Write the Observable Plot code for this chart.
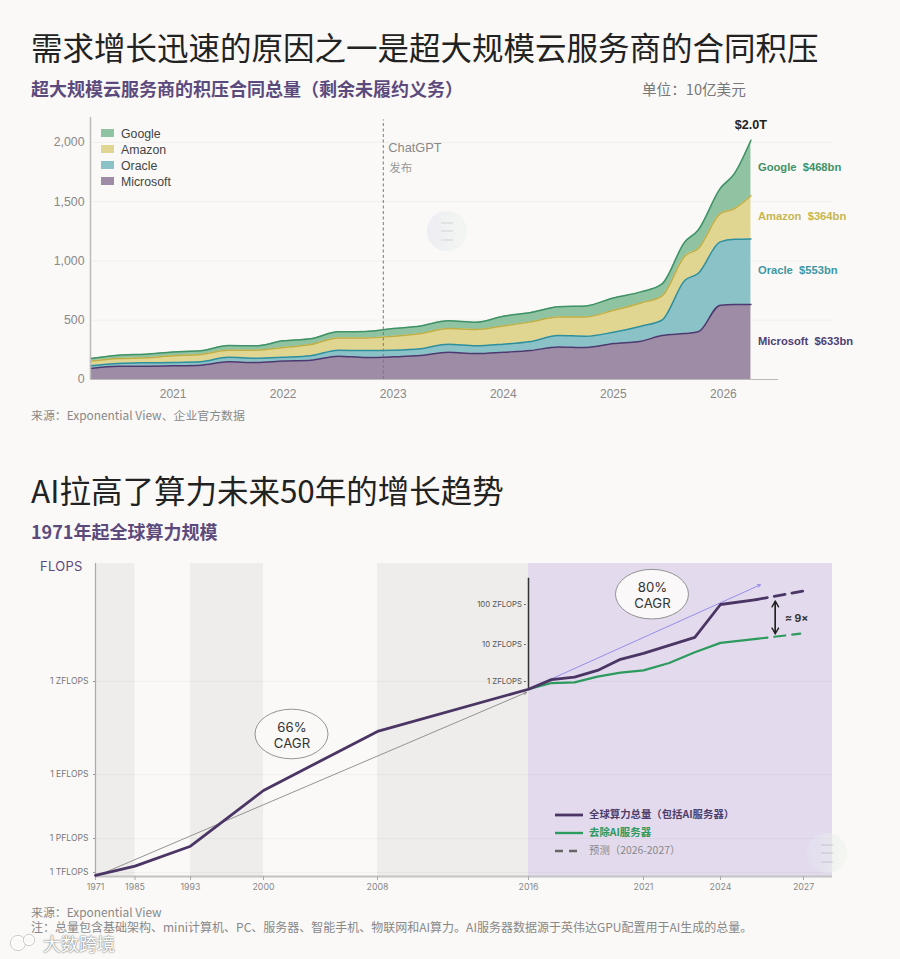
<!DOCTYPE html>
<html lang="zh"><head><meta charset="utf-8">
<script src="https://cdn.jsdelivr.net/npm/d3@7"></script>
<script src="https://cdn.jsdelivr.net/npm/@observablehq/plot@0.6"></script>
<style>
html,body{margin:0;padding:0;background:#faf9f7;}
body{position:relative;width:900px;height:959px;overflow:hidden;font-family:"Noto Sans CJK SC","Noto Sans",sans-serif;}
.t{position:absolute;white-space:nowrap;line-height:1;}
.h1{font-size:31.5px;color:#222;left:31px;}
.h2{font-weight:700;color:#5c4a7d;left:31px;}
.src{font-size:11.9px;color:#888;left:31px;}
.lg1{font:12.3px "Liberation Sans",sans-serif;color:#444;left:121px;}
.sw{position:absolute;left:101px;width:13px;height:8px;}
.mk{position:absolute;border-radius:50%;width:40px;height:40px;opacity:.5;background:linear-gradient(90deg,#e3e2f3,#eef6ea);}
.mk i{position:absolute;left:14px;width:12px;height:2px;background:#ccc;}
</style></head><body>
<div class="t h1" style="top:31px">需求增长迅速的原因之一是超大规模云服务商的合同积压</div>
<div class="t h2" style="top:79px;font-size:18px">超大规模云服务商的积压合同总量（剩余未履约义务）</div>
<div class="t" style="left:642px;top:82px;font-size:14.6px;color:#777">单位：10亿美元</div>
<div class="t src" style="top:409px">来源：Exponential View、企业官方数据</div>
<div class="t h1" style="top:474px">AI拉高了算力未来50年的增长趋势</div>
<div class="t h2" style="top:522px;font-size:18px">1971年起全球算力规模</div>
<div class="t" style="left:40px;top:558px;font:13px 'Inter',sans-serif;letter-spacing:.3px;color:#5c4a7d">FLOPS</div>
<div class="t src" style="top:906px">来源：Exponential View</div>
<div class="t src" style="top:921px;font-size:12px">注：总量包含基础架构、mini计算机、PC、服务器、智能手机、物联网和AI算力。AI服务器数据源于英伟达GPU配置用于AI生成的总量。</div>
<script>
// ---------- Chart 1: backlog ($bn) ----------
const years1 = [2020.25,2020.5,2020.75,2021,2021.25,2021.5,2021.75,2022,2022.25,2022.5,2022.75,2023,2023.25,2023.5,2023.75,2024,2024.25,2024.5,2024.75,2025,2025.25,2025.44,2025.65,2025.77,2025.97,2026.1,2026.25];
const microsoft = [93,112,112,115,121,149,143,155,163,197,185,191,202,230,219,230,244,275,270,303,323,371,388,402,627,633,633];
const oracle    = [22,23,29,28,28,39,37,33,37,50,59,56,57,68,65,68,76,96,95,96,127,129,449,492,534,550,553];
const amazon    = [40,42,42,57,62,59,67,82,95,104,107,118,129,132,138,154,166,157,163,185,196,203,206,210,238,259,364];
const google    = [22,28,31,33,31,40,37,56,48,51,54,65,64,65,61,82,79,85,93,104,93,101,118,155,211,295,468];
const seriesNames = ["Microsoft","Oracle","Amazon","Google"];
const seriesValues = [microsoft,oracle,amazon,google];
const fillColors = {Microsoft:"#9e8ba5",Oracle:"#8ac2c7",Amazon:"#e0d591",Google:"#90c3a2"};
const lineColors = {Microsoft:"#4a3a70",Oracle:"#2f8f9b",Amazon:"#bdae45",Google:"#3f9266"};
const labelColors = {Microsoft:"#4f3f74",Oracle:"#3d97a3",Amazon:"#c6b650",Google:"#3f9266"};
const endLabels = {Microsoft:"Microsoft\u00a0\u00a0$633bn",Oracle:"Oracle\u00a0\u00a0$553bn",Amazon:"Amazon\u00a0\u00a0$364bn",Google:"Google\u00a0\u00a0$468bn"};
const yTicks1 = [0,500,1000,1500,2000];
const xTicks1 = [2021,2022,2023,2024,2025,2026];
const chatGPT = 2022.91;
const total = 2018;

const long1 = seriesNames.flatMap((name,s)=>years1.map((x,i)=>({name,x,y:seriesValues[s][i]})));
let base = 0;
const labelRows = seriesNames.map((name,s)=>{const v=seriesValues[s].at(-1);const r={name,y:base+v/2};base+=v;return r;});
const SANS1 = "Liberation Sans";

const chart1 = Plot.plot({
  width:900,height:300,marginLeft:90,marginRight:67,marginTop:7,marginBottom:31,
  style:{background:"transparent",fontFamily:SANS1},
  x:{domain:[2020.25,2027],axis:null},
  y:{domain:[0,2210],axis:null},
  color:{type:"identity"},
  marks:[
    Plot.ruleY(yTicks1.slice(1),{stroke:"#f0efec",strokeWidth:1}),
    Plot.areaY(long1,{x:"x",y:"y",z:"name",fill:d=>fillColors[d.name],curve:"monotone-x",order:null}),
    Plot.lineY(long1,Plot.stackY2({x:"x",y:"y",z:"name",stroke:d=>lineColors[d.name],strokeWidth:1.5,curve:"monotone-x",order:null})),
    Plot.ruleX([chatGPT],{stroke:"#777",strokeWidth:1,strokeDasharray:"3,2.5",y1:0,y2:2190}),
    Plot.ruleY([0],{x1:2020.25,x2:2026.5,stroke:"#bbb",strokeWidth:1}),
    Plot.ruleX([2020.25],{stroke:"#bbb",strokeWidth:1.5}),
    Plot.text(yTicks1,{x:2020.25,y:d=>d,text:d=>d3.format(",")(d),textAnchor:"end",dx:-6,fontSize:12.3,fill:"#888"}),
    Plot.text(xTicks1,{x:d=>d,y:0,text:d=>String(d),dy:15,fontSize:12,fill:"#888"}),
    Plot.text(["ChatGPT"],{x:chatGPT,y:1950,text:d=>d,dx:5,textAnchor:"start",fontSize:12.8,fill:"#888"}),
    Plot.text(["发布"],{x:chatGPT,y:1780,text:d=>d,dx:6,textAnchor:"start",fontSize:11.5,fill:"#999",fontFamily:"Noto Sans CJK SC"}),
    Plot.text(["$2.0T"],{x:2026.25,y:total,text:d=>d,dy:-15,fontSize:12.6,fontWeight:700,fill:"#222"}),
    Plot.text(labelRows,{x:2026.25,y:"y",text:d=>endLabels[d.name],dx:7,dy:-1,textAnchor:"start",fontSize:11.2,fontWeight:700,fill:d=>labelColors[d.name]})
  ]
});
Object.assign(chart1.style,{position:"absolute",left:"0",top:"110px"});
document.body.appendChild(chart1);

// ---------- Chart 2: compute (log10 FLOPS) ----------
const yearsMain = [1971,1985,1993,2000,2008,2016,2017,2018,2019,2020,2021,2023,2024,2025.3];
const totalLog  = [11.74,12.56,14.32,17.25,19.39,20.75,21.05,21.12,21.3,21.6,21.76,22.18,23.0,23.12];
const forecastYears = [2025.3,2027];
const totalForecast = [23.12,23.33];
const yearsGreen = [2016,2017,2018,2019,2020,2021,2022,2023,2024,2025.3];
const exAI = [20.75,20.95,20.97,21.13,21.24,21.3,21.5,21.79,22.04,22.14];
const forecastYearsGreen = [2025.3,2026.88];
const exAIForecast = [22.14,22.27];
const xDomain2 = [1971,1985,1993,2000,2008,2016,2021,2024,2027,2028.05];
const xStops = [95,134.5,190,263,377,528,643,720,803,832];
const xTicks2 = [1971,1985,1993,2000,2008,2016,2021,2024,2027];
const yDomain2 = [11.65,12,15,18,21,22,23,24];
const yStops = [326,322,288,224,131,94,54,13];
const leftTicks = [[12,"1 TFLOPS"],[15,"1 PFLOPS"],[18,"1 EFLOPS"],[21,"1 ZFLOPS"]];
const innerTicks = [[21,"1 ZFLOPS"],[22,"10 ZFLOPS"],[23,"100 ZFLOPS"]];
const greyBands = [[1971,1985],[1993,2000],[2008,2016]];
const purpleBand = [[2016,2028.05]];
const trendLines = [
  {x1:1971,y1:11.65,x2:2015.9,y2:20.65,c:"#888"},
  {x1:2016,y1:20.75,x2:2025.44,y2:23.48,c:"#8d82ea"}
];
const ellipses = [
  {x:2002,y:19.29,label:"66%\nCAGR",fill:"#faf9f7"},
  {x:2021.35,y:23.24,label:"80%\nCAGR",fill:"#faf8f8"}
];
// the axis is stretched piece by piece: X and Y warp years and log-FLOPS onto Plot's linear scales
const X = d3.scaleLinear().domain(xDomain2).range(xStops);
const Y = d3.scaleLinear().domain(yDomain2).range(yStops);
const zip = (a,b)=>a.map((x,i)=>({x:X(x),y:Y(b[i])}));
const xL = X(1971), xR = X(2028.05), yB = Y(11.65);
const SANS2 = "Inter";

const chart2 = Plot.plot({
  width:900,height:355,marginLeft:95,marginRight:68,marginTop:13,marginBottom:29,
  style:{background:"transparent",fontFamily:SANS2},
  x:{domain:[xL,xR],axis:null},
  y:{domain:[yB,Y(24)],axis:null},
  color:{type:"identity"},
  marks:[
    Plot.rect(greyBands,{x1:d=>X(d[0]),x2:d=>X(d[1]),fill:"#eeedeb"}),
    Plot.rect(purpleBand,{x1:d=>X(d[0]),x2:d=>X(d[1]),fill:"#e3dbed"}),
    Plot.ruleY(leftTicks,{y:d=>Y(d[0]),x1:xL,x2:xR,stroke:"#000",strokeOpacity:.035}),
    Plot.ruleX([xL],{stroke:"#aaa",strokeWidth:1.2}),
    Plot.ruleY([yB],{x1:xL,x2:xR,stroke:"#c4c3c3",strokeWidth:2}),
    Plot.ruleX(xTicks2,{x:d=>X(d),y1:yB,y2:yB,stroke:"#aaa",insetBottom:-4}),
    Plot.text(xTicks2,{x:d=>X(d),y:yB,text:d=>String(d),dy:11,fontSize:8.8,fill:"#888"}),
    Plot.ruleY(leftTicks,{y:d=>Y(d[0]),x1:xL,x2:xL,stroke:"#999",insetLeft:-2}),
    Plot.text(leftTicks,{x:xL,y:d=>Y(d[0]),text:d=>d[1],textAnchor:"end",dx:-7,fontSize:8.6,fill:"#777"}),
    Plot.ruleX([X(2016)],{y1:Y(20.75),y2:Y(23.64),stroke:"#333",strokeWidth:1.5}),
    Plot.ruleY(innerTicks,{y:d=>Y(d[0]),x1:X(2015.79),x2:X(2015.89),stroke:"#666"}),
    Plot.text(innerTicks,{x:X(2016),y:d=>Y(d[0]),text:d=>d[1],textAnchor:"end",dx:-6.5,fontSize:7.8,fill:"#555"}),
    Plot.arrow(trendLines,{x1:d=>X(d.x1),y1:d=>Y(d.y1),x2:d=>X(d.x2),y2:d=>Y(d.y2),stroke:"c",strokeWidth:.9,headLength:5,bend:0}),
    Plot.line(zip(yearsGreen,exAI),{x:"x",y:"y",stroke:"#2d9a5e",strokeWidth:2.2}),
    Plot.line(zip(forecastYearsGreen,exAIForecast),{x:"x",y:"y",stroke:"#2d9a5e",strokeWidth:2.2,strokeDasharray:"11,7"}),
    Plot.line(zip(yearsMain,totalLog),{x:"x",y:"y",stroke:"#4a3564",strokeWidth:2.8}),
    Plot.line(zip(forecastYears,totalForecast),{x:"x",y:"y",stroke:"#4a3564",strokeWidth:2.8,strokeDasharray:"11,7"}),
    // ellipses are positioned through the chart's scales
    (index,{x,y})=>{
      const g=d3.create("svg:g");
      g.selectAll("ellipse").data(ellipses).join("ellipse")
        .attr("cx",d=>x(X(d.x))).attr("cy",d=>y(Y(d.y))).attr("rx",36.5).attr("ry",24.8)
        .attr("fill",d=>d.fill).attr("stroke","#888").attr("stroke-width",.9);
      return g.node();
    },
    Plot.text(ellipses,{x:d=>X(d.x),y:d=>Y(d.y),text:"label",fontSize:13.2,lineHeight:1.2,fill:"#333"}),
    Plot.arrow([{x:2025.98,a:22.27,b:23.08}],{x1:d=>X(d.x),y1:d=>Y(d.a),x2:d=>X(d.x),y2:d=>Y(d.b),stroke:"#222",strokeWidth:1.4,headLength:7,bend:0}),
    Plot.arrow([{x:2025.98,a:23.08,b:22.27}],{x1:d=>X(d.x),y1:d=>Y(d.a),x2:d=>X(d.x),y2:d=>Y(d.b),stroke:"#222",strokeWidth:1.4,headLength:7,bend:0}),
    Plot.text(["≈ 9×"],{x:X(2026.75),y:Y(22.65),text:d=>d,fontSize:10.4,fontWeight:700,fill:"#333"})
  ]
});
Object.assign(chart2.style,{position:"absolute",left:"0",top:"550px"});
document.body.appendChild(chart2);

// ---------- HTML legends and watermarks ----------
const add=(html)=>document.body.insertAdjacentHTML("beforeend",html);
["Google","Amazon","Oracle","Microsoft"].forEach((n,i)=>{
  const top=129+16*i;
  add(`<div class="sw" style="top:${top}px;background:${fillColors[n]}"></div><div class="t lg1" style="top:${top-2}px">${n}</div>`);
});
const legend2=[
  {label:"全球算力总量（包括AI服务器）",c:"#4a3564",tc:"#4f3e6c",w:700,dash:"",sw:2.8},
  {label:"去除AI服务器",c:"#2d9a5e",tc:"#2d9a5e",w:700,dash:"",sw:2.4},
  {label:"预测（2026-2027）",c:"#666",tc:"#888",w:400,dash:"8,6",sw:2.4}
];
legend2.forEach((l,i)=>{
  const cy=815+18*i;
  add(`<svg style="position:absolute;left:555px;top:${cy-3}px" width="28" height="6"><line x1="0" x2="28" y1="3" y2="3" stroke="${l.c}" stroke-width="${l.sw}" stroke-dasharray="${l.dash}"/></svg>`);
  add(`<div class="t" style="left:589px;top:${cy-6}px;font-size:10.4px;font-weight:${l.w};color:${l.tc}">${l.label}</div>`);
});
[[427,211],[807,833]].forEach(([l,t])=>add(`<div class="mk" style="left:${l}px;top:${t}px"><i style="top:11px"></i><i style="top:19px"></i><i style="top:28px"></i></div>`));
add(`<div class="t" style="left:43px;top:934px;font-size:18px;color:#fff;text-shadow:0 0 2px #777,0 0 1px #777">大数跨境</div>`);
add(`<svg style="position:absolute;left:9px;top:932px" width="28" height="20"><circle cx="9" cy="11" r="6.5" fill="none" stroke="#fff" stroke-width="2"/><circle cx="9" cy="11" r="7.6" fill="none" stroke="#aaa" stroke-width=".6"/><circle cx="20" cy="8" r="4.5" fill="none" stroke="#fff" stroke-width="2"/><circle cx="20" cy="8" r="5.6" fill="none" stroke="#aaa" stroke-width=".6"/></svg>`);
</script>
</body></html>
